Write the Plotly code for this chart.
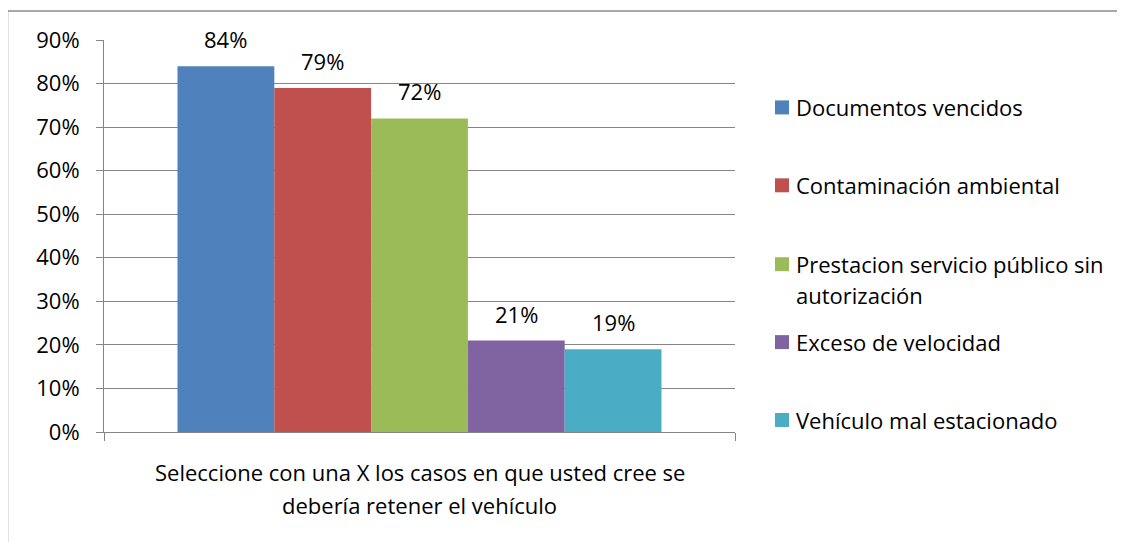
import plotly.graph_objects as go

category = "Seleccione con una X los casos en que usted cree se<br>debería retener el vehículo"
series_names = [
    "Documentos vencidos",
    "Contaminación ambiental",
    "Prestacion servicio público sin<br>autorización",
    "Exceso de velocidad",
    "Vehículo mal estacionado",
]
values = [0.84, 0.79, 0.72, 0.21, 0.19]
colors = ["#4F81BD", "#C0504D", "#9BBB59", "#8064A2", "#4BACC6"]
y_ticks = [0, 0.1, 0.2, 0.3, 0.4, 0.5, 0.6, 0.7, 0.8, 0.9]

FONT = "Open Sans"
FS = 22
GRID = "#868686"

PAGE_W, PAGE_H = 1125, 542
OFF = 8  # default body margin of the page
W, H = PAGE_W - OFF, PAGE_H - OFF
X0, X1, Y0, Y1 = 104, 735, 39.5, 432  # plot area in page pixels


def px(x):
    return (x - X0) / (X1 - X0)


def py(y):
    return (Y1 - y) / (Y1 - Y0)


BARGAP = 0.233
n = len(values)

fig = go.Figure()
for name, v, c in zip(series_names, values, colors):
    fig.add_trace(go.Bar(x=[category], y=[v], name=name.replace("<br>", " "),
                         marker=dict(color=c, line=dict(width=0)), showlegend=False))

annotations = []
group = 1 - BARGAP
for i, v in enumerate(values):
    xc = -group / 2 + (i + 0.5) * group / n
    annotations.append(dict(x=xc, y=v, xref="x", yref="y", text=f"{round(v*100)}%",
                            showarrow=False, yanchor="bottom", yshift=10,
                            font=dict(family=FONT, size=FS, color="black")))

# category label below axis
for j, line in enumerate(category.split("<br>")):
    annotations.append(dict(x=0.5, y=py(472 + j * 33), xref="paper", yref="paper",
                            text=line, showarrow=False, xanchor="center", yanchor="middle",
                            font=dict(family=FONT, size=FS, color="black")))

# manual legend
shapes = []
leg_centers = [107, 185, 264, 342, 420]
for name, c, yc in zip(series_names, colors, leg_centers):
    shapes.append(dict(type="rect", xref="paper", yref="paper",
                       x0=px(775), x1=px(789), y0=py(yc + 7), y1=py(yc - 7),
                       fillcolor=c, line=dict(width=0)))
    for j, line in enumerate(name.split("<br>")):
        annotations.append(dict(x=px(794), y=py(yc + j * 31), xref="paper", yref="paper",
                                text=line, showarrow=False, xanchor="left", yanchor="middle",
                                font=dict(family=FONT, size=FS, color="black")))

# chart border (top and left)
shapes.append(dict(type="rect", xref="paper", yref="paper",
                   x0=px(7.5), x1=px(1140), y0=py(570), y1=py(10.5),
                   line=dict(color="#8c8c8c", width=1.5), fillcolor="rgba(0,0,0,0)"))

fig.update_layout(
    width=W, height=H,
    margin=dict(l=X0 - OFF, r=PAGE_W - X1, t=Y0 - OFF, b=PAGE_H - Y1),
    paper_bgcolor="white", plot_bgcolor="white",
    barmode="group", bargap=BARGAP, bargroupgap=0,
    showlegend=False,
    font=dict(family=FONT, size=FS, color="black"),
    xaxis=dict(type="category", showline=True, linecolor=GRID, linewidth=1,
               ticks="outside", tickson="boundaries", ticklen=8, tickcolor=GRID,
               showticklabels=False, showgrid=False, range=[-0.5, 0.5], fixedrange=True),
    yaxis=dict(range=[0, 0.9], tickvals=y_ticks, tickformat=".0%",
               showline=True, linecolor=GRID, linewidth=1,
               ticks="outside", ticklen=7, tickcolor=GRID,
               showgrid=True, gridcolor=GRID, gridwidth=1,
               zeroline=False, ticklabelstandoff=12,
               tickfont=dict(family=FONT, size=FS, color="black")),
    annotations=annotations, shapes=shapes,
)

fig.write_html("out.html")
